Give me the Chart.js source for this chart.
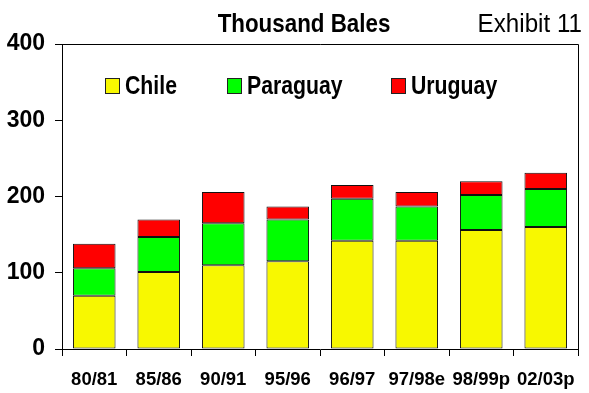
<!DOCTYPE html>
<html>
<head>
<meta charset="utf-8">
<script src="https://cdn.jsdelivr.net/npm/chart.js@4"></script>
<style>
  html, body { margin: 0; padding: 0; background: #fff; }
  #wrap { width: 589px; height: 393px; }
</style>
</head>
<body>
<div id="wrap"><canvas id="chart" width="589" height="393"></canvas></div>
<script>
const seasons = ['80/81', '85/86', '90/91', '95/96', '96/97', '97/98e', '98/99p', '02/03p'];
const chile = [70, 101, 110, 115, 142, 142, 156, 160];
const paraguay = [36, 46, 55, 55, 55, 45, 46, 50];
const uruguay = [32, 23, 41, 17, 18, 19, 18, 21];
const yTicks = [0, 100, 200, 300, 400];

const FONT = '"Liberation Sans", Arial, sans-serif';

// draw text squeezed horizontally (narrow typeface look)
function narrowText(ctx, text, x, y, sx) {
    ctx.save();
    ctx.scale(sx, 1);
    ctx.fillText(text, x / sx, y);
    ctx.restore();
}

// titles, box around the plot and the legend row inside it
const decorations = {
    id: 'decorations',
    afterDraw(chart) {
        const ctx = chart.ctx;
        const area = chart.chartArea;
        ctx.save();

        // top and right frame lines
        ctx.strokeStyle = '#000';
        ctx.lineWidth = 1;
        ctx.beginPath();
        ctx.moveTo(area.left, area.top + 0.5);
        ctx.lineTo(area.right + 0.5, area.top + 0.5);
        ctx.lineTo(area.right + 0.5, area.bottom);
        ctx.stroke();

        ctx.fillStyle = '#000';
        ctx.textBaseline = 'alphabetic';
        ctx.textAlign = 'center';
        ctx.font = 'bold 26px ' + FONT;
        narrowText(ctx, 'Thousand Bales', 304, 32, 0.86);
        ctx.textAlign = 'right';
        ctx.font = '26px ' + FONT;
        narrowText(ctx, 'Exhibit 11', 582, 32, 0.93);

        // legend
        const boxX = [105, 227, 391];
        ctx.textAlign = 'left';
        ctx.font = 'bold 25px ' + FONT;
        chart.data.datasets.forEach((ds, i) => {
            const x = boxX[i];
            ctx.fillStyle = ds.backgroundColor;
            ctx.fillRect(x, 78, 14, 15);
            ctx.strokeStyle = '#222';
            ctx.strokeRect(x + 0.5, 78.5, 14, 15);
            ctx.fillStyle = '#000';
            narrowText(ctx, ds.label, x + 20, 94, 0.85);
        });
        ctx.restore();
    }
};

new Chart(document.getElementById('chart'), {
    type: 'bar',
    data: {
        labels: seasons,
        datasets: [
            { label: 'Chile', data: chile, backgroundColor: '#F8F800' },
            { label: 'Paraguay', data: paraguay, backgroundColor: '#00FF00' },
            { label: 'Uruguay', data: uruguay, backgroundColor: '#FF0000' }
        ].map(ds => Object.assign(ds, {
            borderColor: '#111',
            borderWidth: 1,
            borderSkipped: false,
            categoryPercentage: 1,
            barPercentage: 0.66
        }))
    },
    options: {
        responsive: false,
        animation: false,
        layout: { padding: { top: 44, right: 11, left: 0, bottom: 0 } },
        plugins: {
            legend: { display: false },
            title: { display: false },
            tooltip: { enabled: false }
        },
        scales: {
            x: {
                stacked: true,
                grid: {
                    offset: true,
                    drawOnChartArea: false,
                    drawTicks: true,
                    tickLength: 7,
                    color: '#000'
                },
                border: { color: '#000', width: 1 },
                ticks: {
                    color: '#000',
                    font: { family: FONT, size: 18.5, weight: 'bold' },
                    padding: 13,
                    maxRotation: 0,
                    autoSkip: false
                },
                afterFit(scale) { scale.height = 44; }
            },
            y: {
                stacked: true,
                min: 0,
                max: 400,
                afterBuildTicks(scale) { scale.ticks = yTicks.map(v => ({ value: v })); },
                grid: {
                    drawOnChartArea: false,
                    drawTicks: true,
                    tickLength: 7,
                    color: '#000'
                },
                border: { color: '#000', width: 1 },
                ticks: {
                    color: '#000',
                    font: { family: FONT, size: 23, weight: 'bold' },
                    padding: 10
                },
                afterFit(scale) { scale.width = 62; }
            }
        }
    },
    plugins: [decorations]
});
</script>
</body>
</html>
